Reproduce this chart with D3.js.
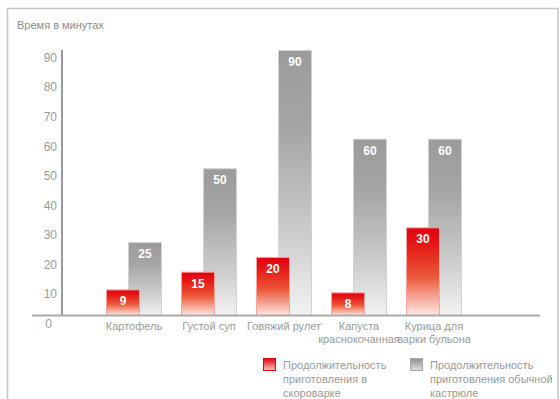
<!DOCTYPE html>
<html>
<head>
<meta charset="utf-8">
<script src="https://cdn.jsdelivr.net/npm/d3@7/dist/d3.min.js"></script>
<style>
  html, body { margin: 0; padding: 0; background: #fff; }
  svg { display: block; font-family: "Liberation Sans", Arial, sans-serif; }
</style>
</head>
<body>
<svg id="chart" width="560" height="399"></svg>
<script>
// Cooking time, minutes
const categoryLines = [
  ["Картофель"],
  ["Густой суп"],
  ["Говяжий рулет"],
  ["Капуста", "краснокочанная"],
  ["Курица для", "варки бульона"]
];
const categories = categoryLines.map(l => l.join(" "));
const pressureCooker = [9, 15, 20, 8, 30];
const regularPot = [25, 50, 90, 60, 60];
const yTicks = [0, 10, 20, 30, 40, 50, 60, 70, 80, 90];
const yTitle = "Время в минутах";
const legendLines = [
  ["Продолжительность", "приготовления в", "скороварке"],
  ["Продолжительность", "приготовления обычной", "кастрюле"]
];

const svg = d3.select("#chart");
const defs = svg.append("defs");

function gradient(id, stops) {
  const g = defs.append("linearGradient").attr("id", id)
    .attr("x1", 0).attr("y1", 0).attr("x2", 0).attr("y2", 1);
  stops.forEach(([o, c]) => g.append("stop").attr("offset", o).attr("stop-color", c));
}
gradient("redGrad", [[0, "#e3000f"], [0.2, "#e41a17"], [0.55, "#ec5638"], [1, "#fde9e4"]]);
gradient("grayGrad", [[0, "#9b9b9b"], [0.3, "#a5a5a5"], [0.7, "#cdcdcd"], [1, "#f3f3f3"]]);
gradient("redSwatch", [[0, "#e3000f"], [1, "#f9c9c0"]]);
gradient("graySwatch", [[0, "#8e8e8e"], [1, "#e2e2e2"]]);

// outer frame
svg.append("rect")
  .attr("x", 7.5).attr("y", 8.5).attr("width", 550.5).attr("height", 400)
  .attr("fill", "none").attr("stroke", "#c4c4c4").attr("stroke-width", 1.5);

svg.append("text")
  .attr("x", 17).attr("y", 29)
  .attr("font-size", 11).attr("fill", "#8c8c8c")
  .text(yTitle);

const y = d3.scaleLinear().domain([0, 90]).range([316, 50]);
const x = d3.scaleBand().domain(categories).range([96.5, 471.5]).padding(0);
const barW = 34;
const redOffset = x.bandwidth() / 2 - 28;
const grayOffset = x.bandwidth() / 2 - 6;

// y axis labels
const yAxis = d3.axisLeft(y).tickValues(yTicks).tickSize(0).tickPadding(0);
const yg = svg.append("g").attr("transform", "translate(57,0)").call(yAxis);
yg.select(".domain").remove();
yg.selectAll("text")
  .attr("font-family", "Liberation Sans, Arial, sans-serif")
  .attr("font-size", 12).attr("fill", "#9a9a9a")
  .attr("dy", "0.95em")
  .attr("x", d => d === 0 ? -5 : 0);

// axis lines
svg.append("line")
  .attr("x1", 62).attr("x2", 62).attr("y1", y(90)).attr("y2", y(0))
  .attr("stroke", "#999").attr("stroke-width", 2);

// regular pot bars
svg.append("g").selectAll("rect")
  .data(regularPot).join("rect")
  .attr("x", (d, i) => x(categories[i]) + grayOffset + 0.5)
  .attr("y", d => y(d) + 0.5)
  .attr("width", barW - 1)
  .attr("height", d => y(0) - y(d) - 1)
  .attr("fill", "url(#grayGrad)")
  .attr("stroke", "#d2d2d2").attr("stroke-width", 1);

// pressure cooker bars
svg.append("g").selectAll("rect")
  .data(pressureCooker).join("rect")
  .attr("x", (d, i) => x(categories[i]) + redOffset + 0.5)
  .attr("y", d => y(d) + 0.5)
  .attr("width", barW - 1)
  .attr("height", d => y(0) - y(d) - 1)
  .attr("fill", "url(#redGrad)")
  .attr("stroke", "#f4a3a0").attr("stroke-width", 1);

// value labels
function valueLabels(data, offset) {
  svg.append("g").selectAll("text")
    .data(data).join("text")
    .attr("x", (d, i) => x(categories[i]) + offset + barW / 2)
    .attr("y", d => y(d) + 16)
    .attr("text-anchor", "middle")
    .attr("font-size", 12).attr("font-weight", "bold").attr("fill", "#fff")
    .text(d => d);
}
valueLabels(regularPot, grayOffset);
valueLabels(pressureCooker, redOffset);

// baseline
svg.append("line")
  .attr("x1", 32).attr("x2", 540).attr("y1", 315.5).attr("y2", 315.5)
  .attr("stroke", "#aaa").attr("stroke-width", 2);

// category labels
svg.append("g").selectAll("text")
  .data(categoryLines).join("text")
  .attr("text-anchor", "middle")
  .attr("font-size", 11).attr("fill", "#9a9a9a")
  .each(function (lines, i) {
    const t = d3.select(this);
    lines.forEach((line, k) => {
      t.append("tspan")
        .attr("x", x(categories[i]) + x.bandwidth() / 2)
        .attr("y", 330 + k * 13)
        .text(line);
    });
  });

// legend
const legendX = [263, 410];
const swatches = ["url(#redSwatch)", "url(#graySwatch)"];
const swatchStroke = ["#e3000f", "#a8a8a8"];
legendLines.forEach((lines, i) => {
  const g = svg.append("g").attr("transform", `translate(${legendX[i]},0)`);
  g.append("rect")
    .attr("x", 0.5).attr("y", 358.5).attr("width", 12).attr("height", 12)
    .attr("fill", swatches[i]).attr("stroke", swatchStroke[i]);
  const t = g.append("text").attr("font-size", 11).attr("fill", "#9a9a9a");
  lines.forEach((line, k) => {
    t.append("tspan").attr("x", 20).attr("y", 369 + k * 14).text(line);
  });
});
</script>
</body>
</html>
